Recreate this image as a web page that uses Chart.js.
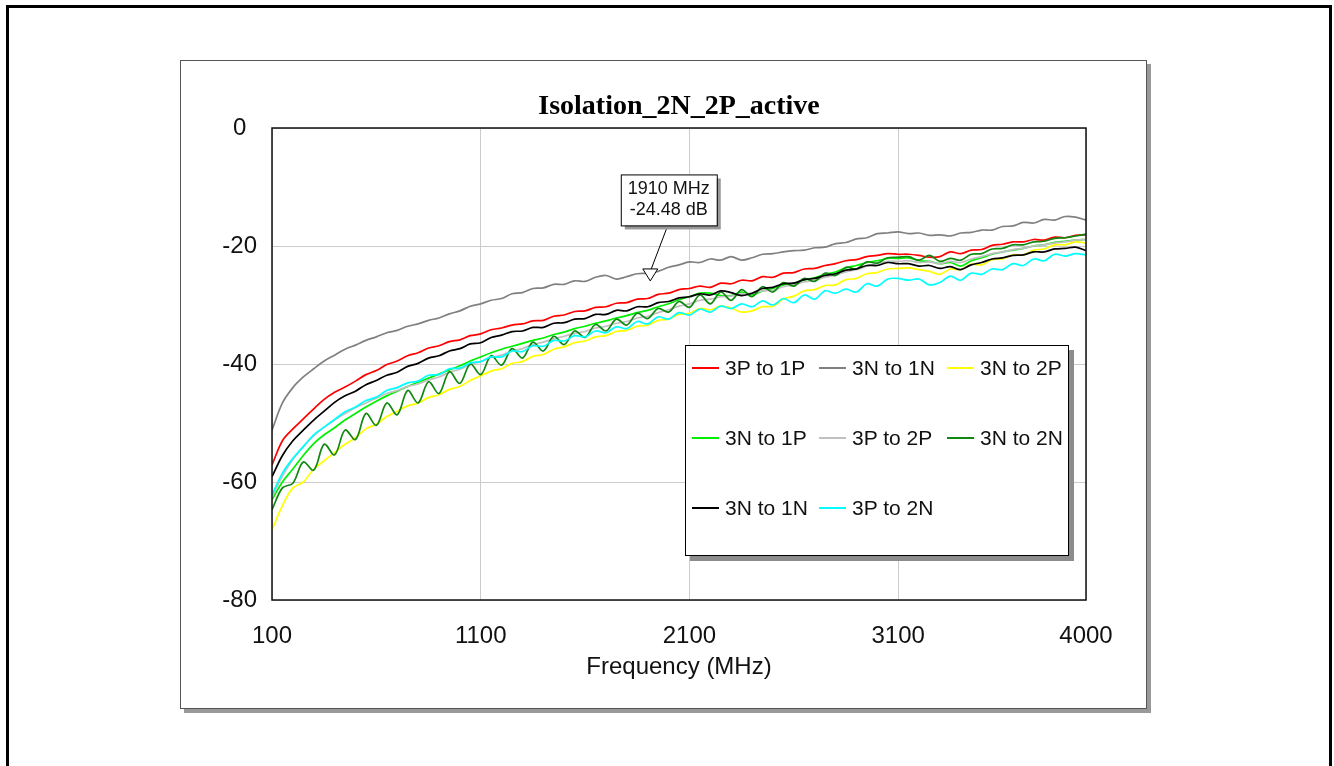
<!DOCTYPE html>
<html>
<head>
    <meta charset="UTF-8">
    <title>Isolation_2N_2P_active</title>
    <script src="https://cdn.jsdelivr.net/npm/chart.js"></script>
    <style>
        body {
            margin: 0;
            width: 1334px;
            height: 766px;
            overflow: hidden;
            background: #fff;
            font-family: "Liberation Sans", Arial, sans-serif;
        }
        .outer {
            position: absolute;
            left: 6px;
            top: 5px;
            width: 1320px;
            height: 800px;
            border: 3px solid #000;
        }
        .panel {
            position: absolute;
            left: 180px;
            top: 60px;
            width: 965px;
            height: 647px;
            border: 1px solid #555;
            box-shadow: 4px 4px 0 #999;
            background: #fff;
        }
        #chart {
            position: absolute;
            left: 0;
            top: 0;
        }
        .legend {
            position: absolute;
            left: 685px;
            top: 345px;
            width: 382px;
            height: 209px;
            border: 1px solid #000;
            background: #fff;
            box-shadow: 5px 5px 0 #8c8c8c;
        }
        .legend .item {
            position: absolute;
            height: 24px;
            display: flex;
            align-items: center;
            font-size: 21px;
            color: #111;
            white-space: nowrap;
        }
        .legend .swatch {
            display: inline-block;
            width: 27px;
            height: 2px;
            margin-right: 6px;
        }
    </style>
</head>
<body>
    <div class="outer"></div>
    <div class="panel"></div>
    <canvas id="chart" width="1334" height="766"></canvas>
    <div class="legend" id="legend"></div>

    <script>
        // frequency points (MHz)
        const freqs = [100,150,200,250,300,350,400,450,500,550,
            600,650,700,750,800,850,900,950,1000,1050,
            1100,1150,1200,1250,1300,1350,1400,1450,1500,1550,
            1600,1650,1700,1750,1800,1850,1900,1950,2000,2050,
            2100,2150,2200,2250,2300,2350,2400,2450,2500,2550,
            2600,2650,2700,2750,2800,2850,2900,2950,3000,3050,
            3100,3150,3200,3250,3300,3350,3400,3450,3500,3550,
            3600,3650,3700,3750,3800,3850,3900,3950,4000];

        const s3Pto1P = [-57.1,-53.0,-51.0,-49.3,-47.6,-46.0,-44.8,-43.9,-42.9,-41.8,
            -41.1,-40.1,-39.5,-38.6,-38.1,-37.3,-36.9,-36.2,-35.9,-35.2,
            -34.9,-34.2,-33.9,-33.4,-33.2,-32.7,-32.6,-31.9,-31.7,-31.1,
            -31.0,-30.4,-30.3,-29.7,-29.6,-29.0,-28.9,-28.2,-28.0,-27.4,
            -27.2,-26.8,-27.0,-26.3,-26.4,-25.8,-25.9,-25.2,-25.3,-24.6,
            -24.5,-23.9,-23.8,-23.3,-23.0,-22.5,-22.3,-21.8,-21.6,-21.3,
            -21.4,-21.4,-21.6,-21.9,-21.8,-21.0,-21.3,-20.7,-20.6,-19.9,
            -19.7,-19.3,-19.3,-18.9,-19.0,-18.5,-18.6,-18.2,-18.1];

        const s3Nto1N_gray = [-51.2,-46.6,-44.0,-42.2,-40.8,-39.5,-38.5,-37.5,-36.8,-36.0,
            -35.4,-34.7,-34.3,-33.6,-33.2,-32.6,-32.2,-31.5,-31.0,-30.2,
            -29.8,-29.2,-28.9,-28.1,-27.9,-27.2,-27.1,-26.5,-26.5,-25.9,
            -26.0,-25.3,-25.0,-25.6,-25.2,-24.7,-24.6,-24.3,-23.6,-23.2,
            -22.7,-22.8,-22.2,-22.4,-21.8,-22.4,-22.0,-21.4,-21.3,-21.0,
            -20.8,-20.7,-20.3,-20.2,-19.6,-19.4,-18.8,-18.6,-17.9,-17.8,
            -17.6,-17.9,-17.8,-18.2,-18.1,-18.3,-17.8,-17.7,-17.3,-17.3,
            -16.7,-16.6,-16.0,-16.1,-15.5,-15.6,-15.0,-15.1,-15.6];

        const s3Nto2P = [-68.1,-64.0,-61.0,-60.0,-57.8,-56.4,-55.0,-53.6,-52.5,-51.0,
            -50.2,-48.9,-48.0,-47.1,-46.6,-45.7,-45.2,-44.3,-43.8,-42.8,
            -42.0,-41.2,-40.8,-39.9,-39.6,-38.7,-38.4,-37.5,-37.1,-36.4,
            -36.1,-35.4,-35.2,-34.5,-34.3,-33.6,-33.4,-32.6,-32.4,-31.6,
            -31.4,-30.6,-30.8,-30.2,-30.5,-31.2,-31.0,-30.3,-30.2,-29.0,
            -28.5,-27.6,-27.4,-26.7,-26.6,-25.7,-25.5,-24.7,-24.5,-23.9,
            -23.8,-23.7,-24.0,-24.3,-24.8,-23.9,-24.0,-23.1,-23.2,-22.3,
            -22.2,-21.5,-21.5,-20.7,-20.5,-19.8,-19.8,-19.3,-19.5];

        const s3Nto1P = [-63.0,-60.0,-57.8,-55.5,-53.5,-52.0,-50.8,-49.5,-48.4,-47.3,
            -46.3,-45.4,-44.6,-43.8,-43.1,-42.4,-41.7,-41.0,-40.3,-39.5,
            -38.8,-38.1,-37.5,-37.0,-36.5,-36.0,-35.6,-35.0,-34.6,-34.0,
            -33.6,-33.1,-32.7,-32.2,-31.8,-31.3,-30.9,-30.3,-29.8,-29.1,
            -28.6,-28.0,-28.0,-28.4,-28.4,-27.8,-28.3,-27.6,-27.2,-26.6,
            -26.3,-25.8,-25.4,-24.8,-24.4,-23.7,-23.3,-22.8,-22.5,-22.1,
            -22.1,-22.0,-22.5,-22.6,-23.0,-22.8,-23.4,-22.5,-22.0,-21.4,
            -21.0,-20.7,-20.4,-20.0,-19.8,-19.4,-19.2,-19.0,-18.9];

        const s3Pto2P = [-62.5,-59.0,-56.2,-54.0,-52.2,-50.7,-49.5,-48.4,-47.4,-46.6,
            -45.8,-45.0,-44.5,-43.8,-43.4,-42.7,-42.2,-41.4,-40.9,-40.1,
            -39.6,-38.9,-38.5,-37.8,-37.4,-36.7,-36.3,-35.7,-35.3,-34.8,
            -34.5,-33.9,-33.6,-33.1,-32.8,-32.2,-31.9,-31.3,-30.8,-30.2,
            -29.8,-29.2,-29.0,-28.6,-28.5,-28.1,-28.0,-27.6,-27.5,-26.9,
            -26.6,-26.1,-25.8,-25.3,-24.9,-24.4,-24.0,-23.4,-23.0,-22.6,
            -22.6,-22.5,-22.8,-22.7,-23.0,-22.6,-22.8,-22.2,-21.8,-21.3,
            -21.0,-20.6,-20.4,-20.0,-19.8,-19.5,-19.3,-19.0,-18.9];

        const s3Nto2N = [-64.7,-61.0,-60.2,-56.6,-58.0,-53.6,-55.4,-51.2,-52.8,-48.4,
            -50.4,-46.6,-48.6,-44.5,-46.6,-43.0,-45.0,-41.3,-43.3,-40.0,
            -41.8,-38.6,-40.2,-37.4,-39.0,-36.3,-37.8,-35.3,-36.7,-34.4,
            -35.5,-33.3,-34.4,-32.4,-33.4,-31.4,-32.3,-30.6,-31.2,-29.4,
            -30.4,-28.3,-29.8,-27.8,-29.2,-27.4,-28.6,-26.9,-27.8,-26.2,
            -26.8,-25.5,-26.0,-24.6,-25.0,-23.6,-23.9,-22.7,-22.9,-22.0,
            -21.9,-21.8,-22.4,-21.6,-22.6,-22.1,-22.4,-21.4,-21.3,-20.5,
            -20.4,-19.8,-19.8,-19.3,-19.2,-18.7,-18.6,-18.3,-18.0];

        const s3Nto1N_black = [-59.1,-55.5,-53.0,-51.2,-49.5,-48.0,-46.5,-45.4,-44.6,-43.5,
            -42.8,-41.9,-41.4,-40.4,-39.9,-39.0,-38.6,-37.8,-37.4,-36.6,
            -36.4,-35.5,-35.1,-34.5,-34.4,-33.8,-33.8,-33.1,-33.0,-32.4,
            -32.3,-31.6,-31.6,-30.9,-31.0,-30.3,-30.3,-29.6,-29.4,-28.8,
            -28.6,-28.1,-28.3,-27.6,-27.9,-28.4,-28.0,-27.2,-27.0,-26.4,
            -26.3,-25.7,-25.5,-25.0,-24.7,-24.1,-23.9,-23.3,-23.3,-22.8,
            -23.0,-23.0,-23.4,-23.3,-23.8,-23.5,-24.0,-23.2,-22.8,-22.2,
            -22.0,-21.6,-21.5,-21.0,-21.0,-20.5,-20.4,-20.2,-20.8];

        const s3Pto2N = [-62.2,-58.5,-56.0,-54.0,-52.0,-50.7,-49.4,-48.1,-47.3,-46.2,
            -45.6,-44.5,-44.0,-43.2,-42.9,-41.9,-41.8,-40.8,-40.7,-39.8,
            -39.6,-38.8,-38.8,-37.8,-37.9,-36.9,-37.0,-36.0,-36.1,-35.2,
            -35.4,-34.4,-34.7,-33.7,-34.0,-32.8,-33.2,-32.0,-32.4,-31.3,
            -31.7,-30.7,-31.2,-30.2,-30.6,-29.8,-30.3,-29.3,-30.0,-28.9,
            -29.6,-28.3,-29.0,-27.6,-28.0,-27.3,-27.8,-26.4,-26.8,-25.6,
            -25.5,-25.8,-25.6,-26.6,-26.2,-25.1,-25.8,-24.6,-24.8,-23.9,
            -24.0,-23.0,-23.3,-22.2,-22.5,-21.4,-21.7,-21.3,-21.5];

        const seriesNames = ['3P to 1P', '3N to 1N', '3N to 2P', '3N to 1P', '3P to 2P', '3N to 2N', '3N to 1N', '3P to 2N'];
        const seriesValues = [s3Pto1P, s3Nto1N_gray, s3Nto2P, s3Nto1P, s3Pto2P, s3Nto2N, s3Nto1N_black, s3Pto2N];
        const seriesColors = ['#ff0000', '#808080', '#ffff00', '#00ee00', '#c0c0c0', '#118811', '#000000', '#00ffff'];

        const xTicks = [100, 1100, 2100, 3100, 4000];
        const yTicks = [0, -20, -40, -60, -80];

        // marker annotation
        const markerFreq = 1910;
        const markerDb = -24.48;
        const markerText = ['1910 MHz', '-24.48 dB'];

        const datasets = seriesNames.map((name, i) => ({
            label: name,
            data: freqs.map((f, j) => ({ x: f, y: seriesValues[i][j] })),
            borderColor: seriesColors[i],
            backgroundColor: seriesColors[i],
            borderWidth: 1.7,
            pointRadius: 0,
            tension: 0.35,
            order: seriesNames.length - i
        }));

        const framePlugin = {
            id: 'frame',
            afterDatasetsDraw(chart) {
                const { ctx, chartArea: a, scales } = chart;
                ctx.save();
                ctx.strokeStyle = '#111';
                ctx.lineWidth = 1.5;
                ctx.strokeRect(a.left, a.top, a.right - a.left, a.bottom - a.top);

                // marker: open triangle + leader line + label box
                const px = scales.x.getPixelForValue(markerFreq);
                const py = scales.y.getPixelForValue(markerDb);
                ctx.lineWidth = 1;
                ctx.strokeStyle = '#000';
                ctx.beginPath();
                ctx.moveTo(px + 18, py - 47);
                ctx.lineTo(px + 1.5, py - 3.5);
                ctx.stroke();
                ctx.beginPath();
                ctx.moveTo(px - 7, py - 3.5);
                ctx.lineTo(px + 8, py - 3.5);
                ctx.lineTo(px + 0.5, py + 8.5);
                ctx.closePath();
                ctx.fillStyle = '#fff';
                ctx.fill();
                ctx.stroke();

                const bx = px - 29, by = py - 98, bw = 96, bh = 51;
                ctx.fillStyle = '#999';
                ctx.fillRect(bx + 4, by + 4, bw, bh);
                ctx.fillStyle = '#fff';
                ctx.fillRect(bx, by, bw, bh);
                ctx.strokeRect(bx + 0.5, by + 0.5, bw, bh);
                ctx.fillStyle = '#111';
                ctx.font = '18px "Liberation Sans", Arial, sans-serif';
                ctx.textAlign = 'center';
                ctx.textBaseline = 'middle';
                ctx.fillText(markerText[0], bx + bw / 2, by + 15);
                ctx.fillText(markerText[1], bx + bw / 2, by + 36);
                ctx.restore();
            }
        };

        const ctx = document.getElementById('chart').getContext('2d');
        const chart = new Chart(ctx, {
            type: 'line',
            data: { datasets: datasets },
            options: {
                responsive: false,
                animation: false,
                devicePixelRatio: 1,
                layout: { padding: { left: 180, top: 86, right: 248, bottom: 58 } },
                plugins: {
                    legend: { display: false },
                    tooltip: { enabled: false },
                    title: {
                        display: true,
                        text: 'Isolation_2N_2P_active',
                        fullSize: false,
                        color: '#000',
                        font: { family: '"Liberation Serif", "Times New Roman", serif', size: 28, weight: 'bold' },
                        padding: { top: 4, bottom: 4.4 }
                    }
                },
                scales: {
                    x: {
                        type: 'linear',
                        min: 100,
                        max: 4000,
                        afterBuildTicks: (scale) => { scale.ticks = xTicks.map(v => ({ value: v })); },
                        afterFit: (scale) => { scale.height = 108; },
                        grid: { color: '#cccccc', lineWidth: 1, drawTicks: false },
                        border: { display: false },
                        ticks: {
                            color: '#111',
                            padding: 22,
                            maxRotation: 0,
                            callback: (v) => String(v),
                            font: { family: '"Liberation Sans", Arial, sans-serif', size: 24 }
                        },
                        title: {
                            display: true,
                            text: 'Frequency (MHz)',
                            color: '#111',
                            padding: { top: 0, bottom: 26 },
                            font: { family: '"Liberation Sans", Arial, sans-serif', size: 24 }
                        }
                    },
                    y: {
                        min: -80,
                        max: 0,
                        afterBuildTicks: (scale) => { scale.ticks = yTicks.map(v => ({ value: v })); },
                        afterFit: (scale) => { scale.width = 92; },
                        grid: { color: '#cccccc', lineWidth: 1, drawTicks: false },
                        border: { display: false },
                        ticks: {
                            color: '#111',
                            padding: 15,
                            crossAlign: 'center',
                            callback: (v) => String(v),
                            font: { family: '"Liberation Sans", Arial, sans-serif', size: 24 }
                        }
                    }
                }
            },
            plugins: [framePlugin]
        });

        // legend box (3 columns x 3 rows)
        const legendEl = document.getElementById('legend');
        const colLeft = [6, 133, 261];
        const rowTop = [10, 80, 150];
        chart.data.datasets.forEach((ds, i) => {
            const item = document.createElement('div');
            item.className = 'item';
            item.style.left = colLeft[i % 3] + 'px';
            item.style.top = rowTop[Math.floor(i / 3)] + 'px';
            item.innerHTML = '<span class="swatch" style="background:' + ds.borderColor + '"></span>' + ds.label;
            legendEl.appendChild(item);
        });
    </script>
</body>
</html>
